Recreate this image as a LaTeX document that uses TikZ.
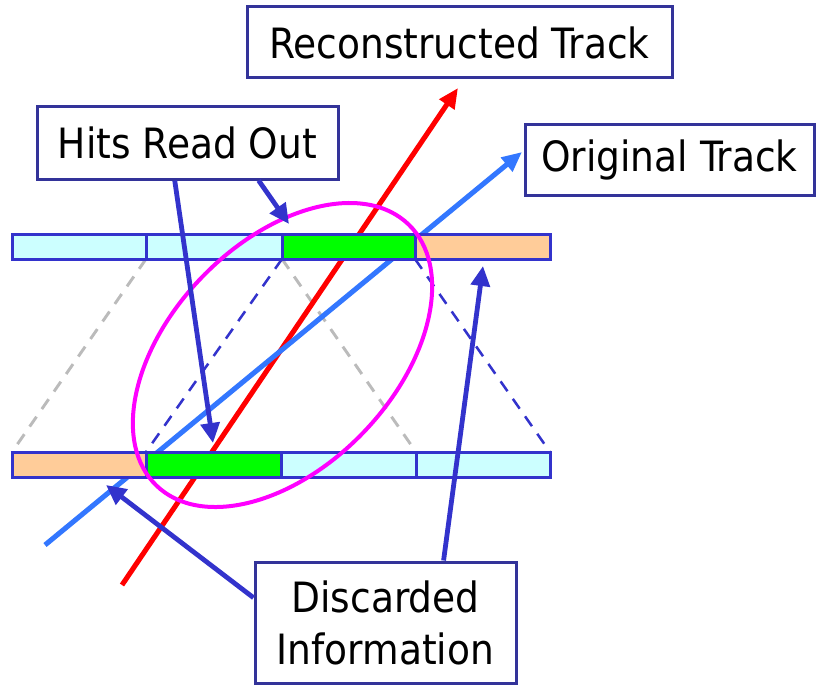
\documentclass[tikz,border=0pt]{standalone}
\usepackage{fontspec}
\setmainfont{DejaVu Sans Condensed}
\usetikzlibrary{arrows.meta,calc}
\definecolor{boxblue}{HTML}{333399}
\definecolor{arrblue}{HTML}{3333CC}
\definecolor{trkblue}{HTML}{3377FF}
\definecolor{cellcyan}{HTML}{CCFFFF}
\definecolor{cellgreen}{HTML}{00FF00}
\definecolor{cellorange}{HTML}{FFCC99}
\definecolor{dashgray}{HTML}{BBBBBB}
\definecolor{ringmag}{HTML}{FF00FF}
\definecolor{trkred}{HTML}{FF0000}
\tikzset{
  label box/.style={draw=boxblue, line width=2.25pt, fill=white, align=center,
    font=\fontsize{31.3}{39}\selectfont, inner sep=0pt},
  cell/.style={draw=arrblue, line width=2.25pt},
  ptr/.style={draw=arrblue, line width=3.6pt, -{Triangle[length=15pt,width=14pt]}},
  track/.style={line width=3.8pt, -{Triangle[length=15pt,width=13pt]}},
  gdash/.style={draw=dashgray, line width=2.2pt, dash pattern=on 9pt off 7pt},
  bdash/.style={draw=arrblue, line width=1.9pt, dash pattern=on 9pt off 7pt},
}
\begin{document}
\begin{tikzpicture}[x=0.75pt, y=-0.75pt]
\useasboundingbox (0,0) rectangle (817,685);
% dashed projection lines
\draw[gdash] (146,259) -- (12,452);
\draw[gdash] (282,259) -- (416,452);
\draw[bdash] (282,259) -- (146,452);
\draw[bdash] (415,259) -- (550,452);
% tracks
\coordinate (r0) at (122,585);
\coordinate (r1) at (458,88);
\coordinate (b0) at (45,545);
\coordinate (b1) at (522,152);
\draw[track, draw=trkred, fill=trkred] (r0) -- (r1);
\draw[track, draw=trkblue, fill=trkblue] (b0) -- (b1);
% top strip
\draw[cell, fill=cellcyan] (12,234) rectangle (146,259);
\draw[cell, fill=cellcyan] (146,234) rectangle (282,259);
\draw[cell, fill=cellgreen] (282,234) rectangle (415,259);
\draw[cell, fill=cellorange] (415,234) rectangle (550,259);
% bottom strip
\draw[cell, fill=cellorange] (12,452) rectangle (146,477);
\draw[cell, fill=cellgreen] (146,452) rectangle (281,477);
\draw[cell, fill=cellcyan] (281,452) rectangle (416,477);
\draw[cell, fill=cellcyan] (416,452) rectangle (550,477);
% ellipse
\draw[draw=ringmag, line width=3pt] (282.5,355) ellipse[x radius=181.5, y radius=112, rotate=46];
% label boxes
\node[label box, minimum width=425*0.75pt, minimum height=71*0.75pt] (rec) at (459.5,42.5) {Reconstructed Track};
\node[label box, minimum width=301*0.75pt, minimum height=73*0.75pt] (hits) at (187.5,142.5) {Hits Read Out};
\node[label box, minimum width=289*0.75pt, minimum height=71*0.75pt] (orig) at (669.5,159.5) {Original Track};
\node[label box, minimum width=261*0.75pt, minimum height=121*0.75pt] (disc) at (385.5,622.5) {Discarded\\Information};
% pointer targets
\coordinate (t1) at (213,443);
\coordinate (t2) at (289,224);
\coordinate (t3) at (106,485);
\coordinate (t4) at (483,266);
\draw[ptr] ($(hits.south west)!0.458!(hits.south east)$) -- (t1);
\draw[ptr] ($(hits.south west)!0.734!(hits.south east)$) -- (t2);
\draw[ptr] ($(disc.north west)!0.30!(disc.south west)$) -- (t3);
\draw[ptr] ($(disc.north west)!0.72!(disc.north east)$) -- (t4);
\end{tikzpicture}
\end{document}
